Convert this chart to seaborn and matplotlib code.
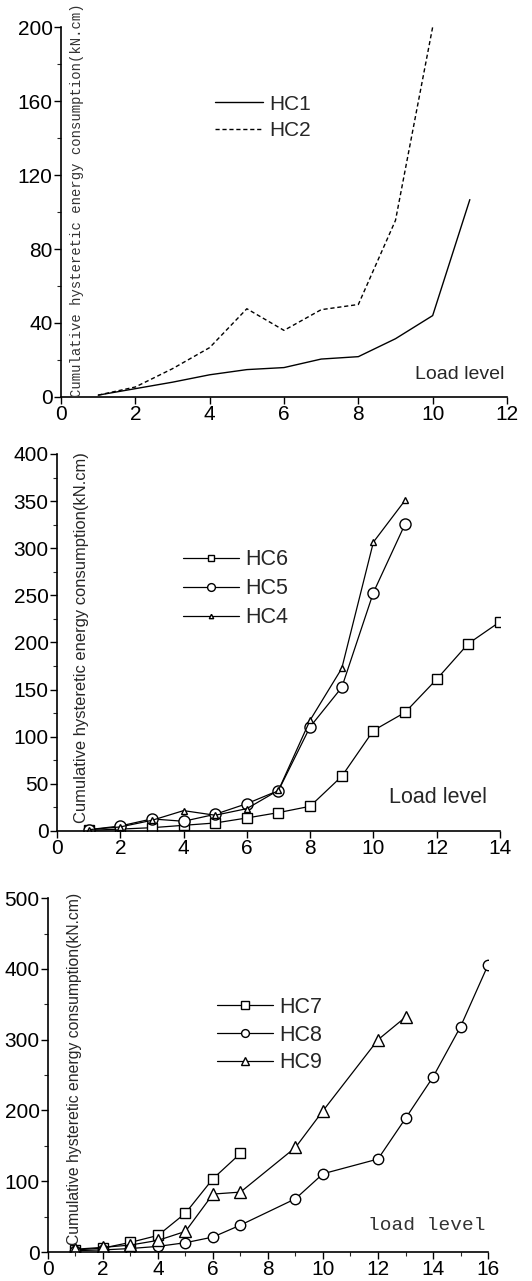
import numpy as np
import pandas as pd
import matplotlib
matplotlib.use("Agg")
import matplotlib.pyplot as plt
from matplotlib.ticker import MultipleLocator
import seaborn as sns

sns.set_theme(style="ticks")
plt.rcParams['font.family'] = ['Liberation Sans', 'DejaVu Sans']

# ---- data ----
lvl_a = [1, 2, 3, 4, 5, 6, 7, 8, 9, 10, 11]
hc1 = [1.0, 4.5, 8.0, 12.0, 14.8, 15.9, 20.5, 21.8, 31.5, 44.0, 106.7]
lvl_b = [1, 2, 3, 4, 5, 6, 7, 8, 9, 10]
hc2 = [1.0, 5.4, 15.3, 26.7, 47.7, 36.0, 47.2, 50.0, 95.5, 200.0]

lvl_c = [1, 2, 3, 4, 5, 6, 7, 8, 9, 10, 11, 12, 13, 14]
hc6 = [0.7, 2.0, 3.5, 6.0, 8.5, 13.8, 19.5, 26.2, 58.0, 106.6, 125.8, 161.0, 198.8, 222.0]
lvl_d = [1, 2, 3, 4, 5, 6, 7, 8, 9, 10, 11]
hc5 = [1.4, 5.3, 12.8, 10.3, 17.7, 29.0, 42.9, 110.5, 152.3, 253.0, 325.6]
hc4 = [1.4, 4.3, 11.3, 21.6, 16.7, 23.7, 43.2, 117.6, 172.5, 306.5, 350.8]

lvl_e = [1, 2, 3, 4, 5, 6, 7]
hc7 = [3.0, 5.6, 13.7, 23.5, 55.0, 103.6, 139.4]
lvl_f = [1, 2, 3, 4, 5, 6, 7, 9, 10, 12, 13, 14, 15, 16]
hc8 = [2.0, 3.0, 5.0, 8.0, 13.2, 21.2, 38.1, 75.3, 110.6, 131.4, 188.8, 247.2, 318.3, 405.4]
lvl_g = [1, 2, 3, 4, 5, 6, 7, 9, 10, 12, 13]
hc9 = [4.0, 6.6, 9.9, 16.5, 29.2, 81.9, 84.7, 147.8, 199.6, 299.9, 331.9]

ylab = "Cumulative hysteretic energy consumption(kN.cm)"

fig = plt.figure(figsize=(5.32, 12.81), dpi=100)
ax1 = fig.add_axes([0.1147, 0.6901, 0.8383, 0.2888])
ax2 = fig.add_axes([0.1071, 0.3513, 0.8327, 0.2943])
ax3 = fig.add_axes([0.0902, 0.0226, 0.8271, 0.2763])


def style_axis(ax, xmax, xstep, ymax, ystep, xminor=None):
    ax.set_xlim(0, xmax)
    ax.set_ylim(0, ymax)
    ax.xaxis.set_major_locator(MultipleLocator(xstep))
    ax.yaxis.set_major_locator(MultipleLocator(ystep))
    ax.yaxis.set_minor_locator(MultipleLocator(ystep / 2))
    if xminor:
        ax.xaxis.set_minor_locator(MultipleLocator(xminor))
    ax.tick_params(which='major', direction='out', length=5, width=1, labelsize=15, pad=1, colors='black')
    ax.tick_params(which='minor', direction='out', length=3, width=0.8)
    sns.despine(ax=ax)
    for s in ['left', 'bottom']:
        ax.spines[s].set_linewidth(1.2)
        ax.spines[s].set_color('black')
    ax.set_xlabel("")
    ax.set_ylabel("")


# panel 1
d1 = pd.DataFrame({'x': lvl_a, 'y': hc1})
d2 = pd.DataFrame({'x': lvl_b, 'y': hc2})
sns.lineplot(data=d1, x='x', y='y', ax=ax1, color='black', lw=1.0, label='HC1')
sns.lineplot(data=d2, x='x', y='y', ax=ax1, color='black', lw=1.0, ls=(0, (3, 2)), label='HC2')
style_axis(ax1, 12, 2, 200, 40)
ax1.legend(loc='upper left', bbox_to_anchor=(0.322, 0.845), frameon=False, fontsize=15,
           handlelength=2.3, handletextpad=0.3, labelspacing=0.35, borderpad=0)
ax1.text(0.035, 0.0, ylab, rotation=90, transform=ax1.transAxes, ha='center', va='bottom',
         family='Liberation Mono', fontsize=10, color='#333333')
ax1.text(0.995, 0.06, "Load level", transform=ax1.transAxes, ha='right', va='center', fontsize=14)

# panel 2
mk = dict(color='black', lw=0.9, mfc='white', mec='black', mew=1.0)
sns.lineplot(x=lvl_c, y=hc6, ax=ax2, marker='s', ms=7, label='HC6', **mk)
sns.lineplot(x=lvl_d, y=hc5, ax=ax2, marker='o', ms=8, label='HC5', **mk)
sns.lineplot(x=lvl_d, y=hc4, ax=ax2, marker='^', ms=4.5, label='HC4', **mk)
style_axis(ax2, 14, 2, 400, 50)
ax2.legend(loc='upper left', bbox_to_anchor=(0.26, 0.776), frameon=False, fontsize=15.5,
           handlelength=2.6, handletextpad=0.3, labelspacing=0.37, borderpad=0, markerscale=0.7)
ax2.text(0.055, 0.02, ylab, rotation=90, transform=ax2.transAxes, ha='center', va='bottom',
         fontsize=11.9)
ax2.text(0.97, 0.09, "Load level", transform=ax2.transAxes, ha='right', va='center', fontsize=15.5)

# panel 3
sns.lineplot(x=lvl_e, y=hc7, ax=ax3, marker='s', ms=7, label='HC7', **mk)
sns.lineplot(x=lvl_f, y=hc8, ax=ax3, marker='o', ms=7.5, label='HC8', **mk)
sns.lineplot(x=lvl_g, y=hc9, ax=ax3, marker='^', ms=8, label='HC9', **mk)
style_axis(ax3, 16, 2, 500, 100, xminor=1)
ax3.legend(loc='upper left', bbox_to_anchor=(0.36, 0.752), frameon=False, fontsize=15.5,
           handlelength=2.6, handletextpad=0.3, labelspacing=0.32, borderpad=0, markerscale=0.75)
ax3.text(0.06, 0.02, ylab, rotation=90, transform=ax3.transAxes, ha='center', va='bottom',
         fontsize=11.3)
ax3.text(0.995, 0.075, "load level", transform=ax3.transAxes, ha='right', va='center',
         family='Liberation Mono', fontsize=14, color='#333333')

fig.savefig("out.png", dpi=100)
